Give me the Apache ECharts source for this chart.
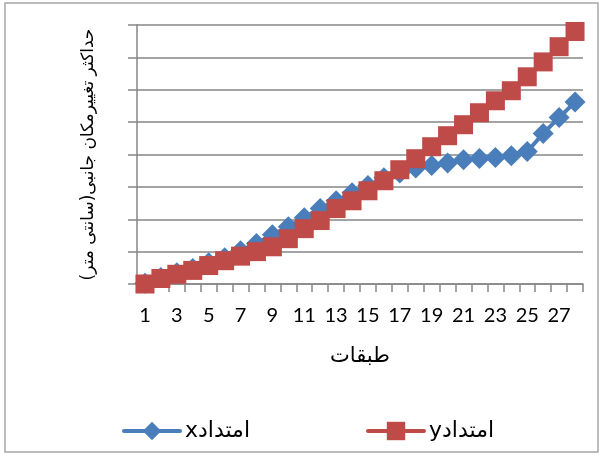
<!DOCTYPE html>
<html>
<head>
<meta charset="utf-8">
<script src="https://cdn.jsdelivr.net/npm/echarts@6/dist/echarts.min.js"></script>
<style>
html,body{margin:0;padding:0;background:#fff;}
#chart{width:601px;height:455px;direction:rtl;}
</style>
</head>
<body>
<div id="chart"></div>
<script>
var floors = ['1','2','3','4','5','6','7','8','9','10','11','12','13','14','15','16','17','18','19','20','21','22','23','24','25','26','27','28'];
var dirX = [0.02,0.2,0.35,0.48,0.66,0.81,1.03,1.25,1.52,1.77,2.05,2.33,2.57,2.82,3.04,3.28,3.43,3.58,3.66,3.74,3.84,3.88,3.91,3.96,4.09,4.65,5.14,5.62];
var dirY = [0.0,0.17,0.3,0.42,0.57,0.72,0.86,1.0,1.15,1.4,1.71,1.96,2.33,2.57,2.88,3.19,3.53,3.87,4.24,4.58,4.92,5.29,5.66,5.97,6.4,6.86,7.33,7.8];
var nameX = 'امتدادx';
var nameY = 'امتدادy';
var xTitle = 'طبقات';
var yTitle = 'حداکثر تغییرمکان جانبی(سانتی متر)';

var chart = echarts.init(document.getElementById('chart'), null, {renderer:'canvas'});
var axisGray = '#868686';
chart.setOption({
  animation:false,
  backgroundColor:'#ffffff',
  graphic:[{type:'rect', shape:{x:5,y:3,width:593,height:449}, style:{fill:'none', stroke:'#a6a6a6', lineWidth:1.5}, z:-1}],
  grid:{left:137, right:18, top:25, bottom:171},
  legend:{
    left:117, top:415, itemWidth:56, itemHeight:23, itemGap:116,
    lineStyle:{width:4, cap:'round'},
    textStyle:{fontFamily:'DejaVu Sans', fontSize:22, color:'#000'},
    data:[nameX, nameY]
  },
  xAxis:{
    type:'category', data:floors, boundaryGap:true,
    axisLine:{lineStyle:{color:axisGray, width:1.5}},
    axisTick:{show:true, length:8, lineStyle:{color:axisGray, width:1.5}, interval:0},
    axisLabel:{interval:1, margin:22, fontFamily:'Lato', fontSize:20, color:'#000'},
    name:xTitle, nameLocation:'middle', nameGap:62,
    nameTextStyle:{fontFamily:'DejaVu Sans', fontSize:21, color:'#000'}
  },
  yAxis:{
    type:'value', min:0, max:8, interval:1,
    axisLine:{show:true, lineStyle:{color:axisGray, width:1.5}},
    axisTick:{show:true, length:9, lineStyle:{color:axisGray, width:1.5}},
    axisLabel:{show:false},
    splitLine:{lineStyle:{color:axisGray, width:1.5}},
    name:yTitle, nameLocation:'middle', nameRotate:90, nameGap:40,
    nameTextStyle:{fontFamily:'DejaVu Sans', fontSize:17, color:'#000'}
  },
  series:[
    {name:nameX, type:'line', data:dirX, symbol:'diamond', symbolSize:21, showAllSymbol:true,
     itemStyle:{color:'#4A7EBB'}, lineStyle:{color:'#4A7EBB', width:4}, z:2},
    {name:nameY, type:'line', data:dirY, symbol:'rect', symbolSize:19, showAllSymbol:true,
     itemStyle:{color:'#BE4B48'}, lineStyle:{color:'#BE4B48', width:4}, z:3}
  ]
});
</script>
</body>
</html>
